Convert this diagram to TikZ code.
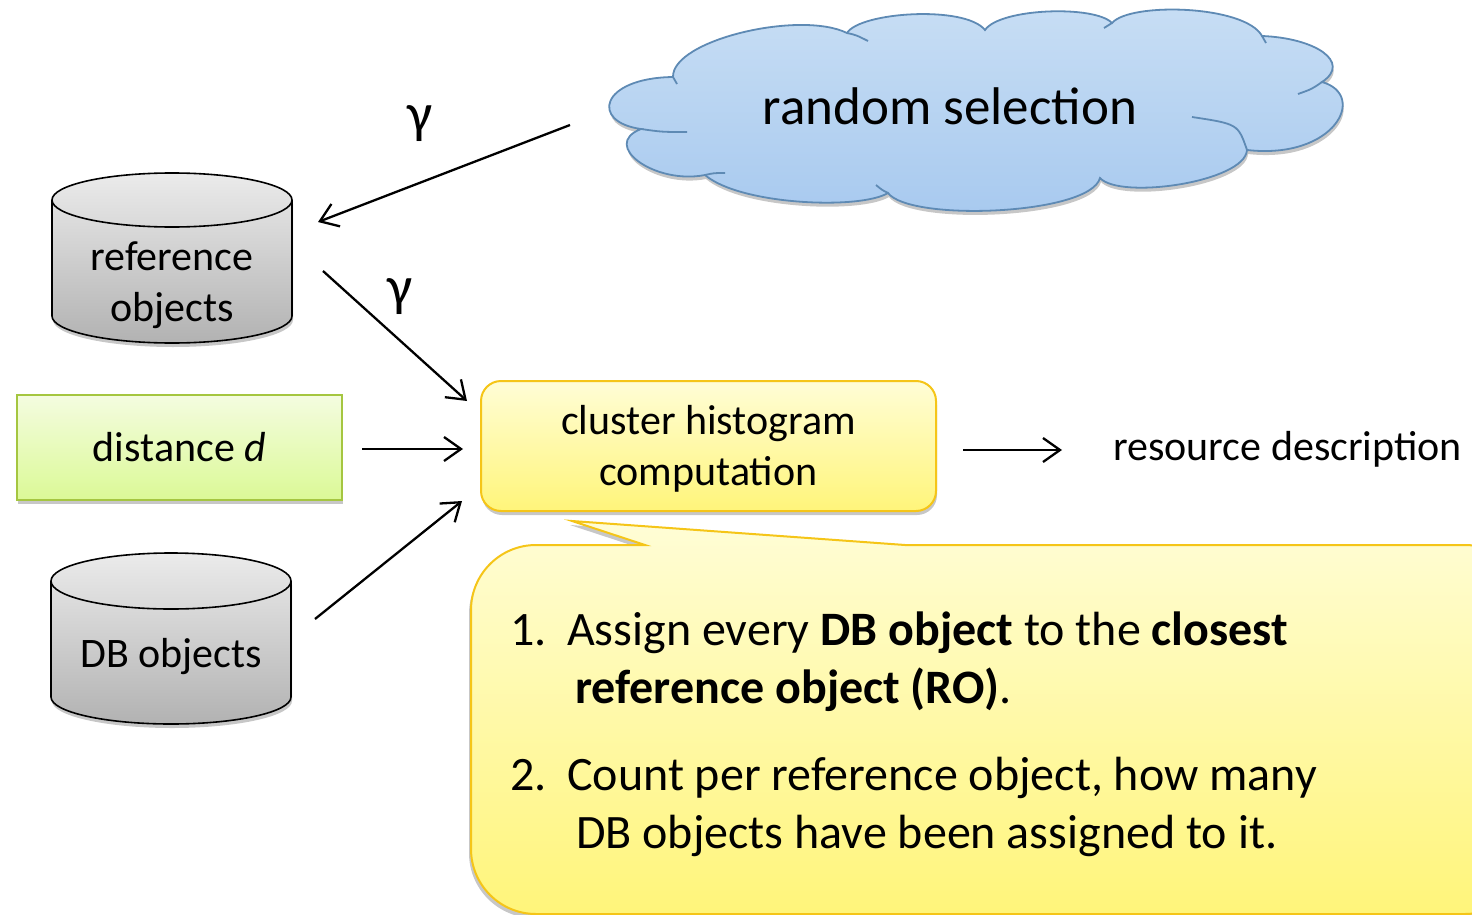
\documentclass[tikz,border=0pt]{standalone}
\usepackage{fontspec}
\setmainfont{Carlito}
\usetikzlibrary{arrows.meta,shadows}

\definecolor{cloudtop}{HTML}{C8DEF4}
\definecolor{cloudbot}{HTML}{A7C9EF}
\definecolor{cloudedge}{HTML}{5E8AB4}
\definecolor{cyltop}{HTML}{EBEBEB}
\definecolor{cylbot}{HTML}{B2B2B2}
\definecolor{greentop}{HTML}{F4FCE0}
\definecolor{greenbot}{HTML}{DBF996}
\definecolor{greenedge}{HTML}{A5C640}
\definecolor{yeltop}{HTML}{FFFDD6}
\definecolor{yelbot}{HTML}{FFF57A}
\definecolor{yeledge}{HTML}{F5C518}

\newcommand\setfs[2]{\fontsize{#1}{#2}\selectfont}

\begin{document}
\begin{tikzpicture}[x=1pt,y=-1pt,
  softshadow/.style={drop shadow={shadow xshift=1pt,shadow yshift=-4pt,opacity=.22,fill=black}},
  cloudfill/.style={draw=cloudedge,line width=1.8pt,top color=cloudtop,bottom color=cloudbot,softshadow},
  cloudline/.style={draw=cloudedge,line width=1.8pt},
  cylfill/.style={draw=black,line width=1.6pt,top color=cyltop,bottom color=cylbot,softshadow},
  cylline/.style={draw=black,line width=1.6pt},
  lbl/.style={inner sep=0pt,font=\setfs{42}{51},align=center},
  greenbox/.style={draw=greenedge,line width=2pt,top color=greentop,bottom color=greenbot,
    minimum width=325pt,minimum height=105pt,inner sep=0pt,font=\setfs{42}{51},softshadow},
  yellowbox/.style={draw=yeledge,line width=2pt,top color=yeltop,bottom color=yelbot,
    rounded corners=20pt,minimum width=455pt,minimum height=130pt,inner sep=0pt,softshadow},
  callout/.style={draw=yeledge,line width=2pt,top color=yeltop,bottom color=yelbot,
    drop shadow={shadow xshift=-2pt,shadow yshift=-4pt,opacity=.22,fill=black}},
  calltext/.style={anchor=base west,inner sep=0pt,font=\setfs{48}{58}},
  arr/.style={line width=2.3pt,-{Straight Barb[length=17pt,width=24pt]}},
  greek/.style={inner sep=0pt,font=\setfs{56}{66}}]

\clip (0,0) rectangle (1472,915);

% cloud outline
\path[cloudfill] (673,77) .. controls (672,40) and (800,10) .. (847,33)
 .. controls (860,12) and (965,5) .. (985,30)
 .. controls (1000,8) and (1095,5) .. (1112,23)
 .. controls (1130,2) and (1245,5) .. (1262,36)
 .. controls (1315,38) and (1352,62) .. (1322,82)
 .. controls (1368,95) and (1335,160) .. (1247,150)
 .. controls (1245,182) and (1120,200) .. (1100,178)
 .. controls (1090,215) and (910,222) .. (888,193)
 .. controls (860,210) and (740,205) .. (705,175)
 .. controls (655,185) and (600,145) .. (641,129)
 .. controls (590,122) and (600,78) .. (673,77) -- cycle;
% inner puff strokes
\draw[cloudline] (847,33) .. controls (856,35) .. (868,41);
\draw[cloudline] (1322,82) .. controls (1312,89) .. (1298,94);
\draw[cloudline] (1247,150) .. controls (1238,124) .. (1192,117);
\draw[cloudline] (641,129) .. controls (662,132) .. (687,132);
\draw[cloudline] (705,175) .. controls (714,173) .. (725,173);
\draw[cloudline] (888,193) .. controls (882,190) .. (876,185);
\draw[cloudline] (1262,36) -- (1266,43);
\draw[cloudline] (673,77) -- (677,84);
\draw[cloudline] (1112,23) -- (1104,28);
\node[inner sep=0pt,font=\setfs{53}{64}] (sel) at (950,106) {random selection};

% reference objects cylinder
\path[cylfill] (52,200) -- (52,316) arc[start angle=180,end angle=0,x radius=120,y radius=27]
  -- (292,200) arc[start angle=0,end angle=-180,x radius=120,y radius=27] -- cycle;
\draw[cylline] (52,200) arc[start angle=180,end angle=0,x radius=120,y radius=27];
\node[lbl] (ref) at (172,285) {reference\\objects};

% DB objects cylinder
\path[cylfill] (51,581) -- (51,697) arc[start angle=180,end angle=0,x radius=120,y radius=27]
  -- (291,581) arc[start angle=0,end angle=-180,x radius=120,y radius=28] -- cycle;
\draw[cylline] (51,581) arc[start angle=180,end angle=0,x radius=120,y radius=28];
\node[lbl] (db) at (171,657) {DB objects};

% distance box
\node[greenbox] (dist) at (179.5,447.5) {distance \textit{d}};

% histogram box and its two-line label
\node[yellowbox] (hist) at (708.5,446) {};
\node[lbl] (histlbl) at (708.5,449) {cluster histogram\\computation};

% output label
\node[lbl,anchor=west] (res) at (1113,449) {resource description};

% explanation callout
\path[callout] (471,610) arc[start angle=180,end angle=270,radius=65] -- (645,545) -- (572,521)
  -- (905,545) -- (1465,545) arc[start angle=270,end angle=360,radius=65] -- (1530,849)
  arc[start angle=0,end angle=90,radius=65] -- (536,914) arc[start angle=90,end angle=180,radius=65] -- cycle;
\node[calltext] (n1) at (510,645) {1.};
\node[calltext] (t1) at (567,645) {Assign every \textbf{DB object} to the \textbf{closest}};
\node[calltext] (t1b) at (575,703) {\textbf{reference object (RO)}.};
\node[calltext] (n2) at (510,790) {2.};
\node[calltext] (t2) at (567,790) {Count per reference object, how many};
\node[calltext] (t2b) at (576,848) {DB objects have been assigned to it.};

% connectors
\draw[arr] ([shift={(-380,19)}]sel.center) -- ([shift={(146,-63)}]ref.center);
\draw[arr] ([shift={(151,-14)}]ref.center) -- ([shift={(-241.5,-45)}]hist.center);
\draw[arr] ([shift={(182.5,1.5)}]dist.center) -- ([shift={(-245.5,3)}]hist.center);
\draw[arr] ([shift={(144,-38)}]db.center) -- ([shift={(-246.5,55)}]hist.center);
\draw[arr] ([shift={(254.5,4)}]hist.center) -- ([shift={(-51,1)}]res.west);

\node[greek] (g1) at (420,124) {γ};
\node[greek] (g2) at (400,297) {γ};
\end{tikzpicture}
\end{document}
